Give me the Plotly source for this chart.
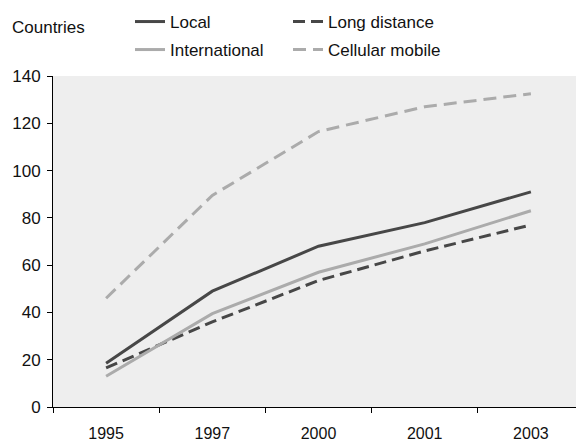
import plotly.graph_objects as go

years = ["1995", "1997", "2000", "2001", "2003"]
local = [18.5, 49, 68, 78, 91]
long_distance = [16.5, 36, 53.5, 66, 77]
international = [13, 39.5, 57, 69, 83]
cellular = [46, 89.5, 116.5, 127, 132.5]

FONT = "Liberation Sans, Arial, sans-serif"
DARK = "#474747"
LIGHT = "#ababab"
FS = 17

W, H = 576, 436  # page body adds 8px offset

fig = go.Figure()
fig.add_trace(go.Scatter(x=years, y=local, name="Local", mode="lines",
                         line=dict(color=DARK, width=3), legend="legend"))
fig.add_trace(go.Scatter(x=years, y=long_distance, name="Long distance", mode="lines",
                         line=dict(color=DARK, width=3, dash="12px,6px"), legend="legend"))
fig.add_trace(go.Scatter(x=years, y=international, name="International", mode="lines",
                         line=dict(color=LIGHT, width=3), legend="legend2"))
fig.add_trace(go.Scatter(x=years, y=cellular, name="Cellular mobile", mode="lines",
                         line=dict(color=LIGHT, width=3, dash="13px,7px"), legend="legend2"))

legend_common = dict(orientation="h", xref="container", yref="container",
                     xanchor="left", yanchor="middle", bgcolor="rgba(0,0,0,0)",
                     font=dict(family=FONT, size=FS, color="#111"),
                     entrywidth=113, itemwidth=30, tracegroupgap=0)

fig.update_layout(
    width=W, height=H,
    margin=dict(l=45, r=0, t=68, b=37, autoexpand=False),
    paper_bgcolor="white",
    plot_bgcolor="#eeeeee",
    font=dict(family=FONT, size=FS, color="#111"),
    showlegend=True,
    legend=dict(x=122 / W, y=1 - 14 / H, **legend_common),
    legend2=dict(x=122 / W, y=1 - 42 / H, **legend_common),
    xaxis=dict(type="category", range=[-0.5, 4.5], showgrid=False, zeroline=False,
               automargin=False,
               showline=True, linecolor="black", linewidth=1,
               ticks="outside", tickson="boundaries", ticklen=5, tickcolor="black",
               ticklabelstandoff=12, tickfont=dict(family=FONT, size=16, color="#111")),
    yaxis=dict(range=[0, 140], dtick=20, showgrid=False, zeroline=False,
               automargin=False,
               showline=True, linecolor="black", linewidth=1,
               ticks="outside", ticklen=5, tickcolor="black",
               ticklabelstandoff=3, tickfont=dict(family=FONT, size=FS, color="#111")),
    annotations=[dict(text="Countries", xref="paper", yref="paper",
                      x=(2 - 45) / (W - 45), y=1 + (68 - 20) / (H - 68 - 37),
                      xanchor="left", yanchor="middle",
                      showarrow=False, font=dict(family=FONT, size=FS, color="#111"))],
)

fig.write_html("out.html")
